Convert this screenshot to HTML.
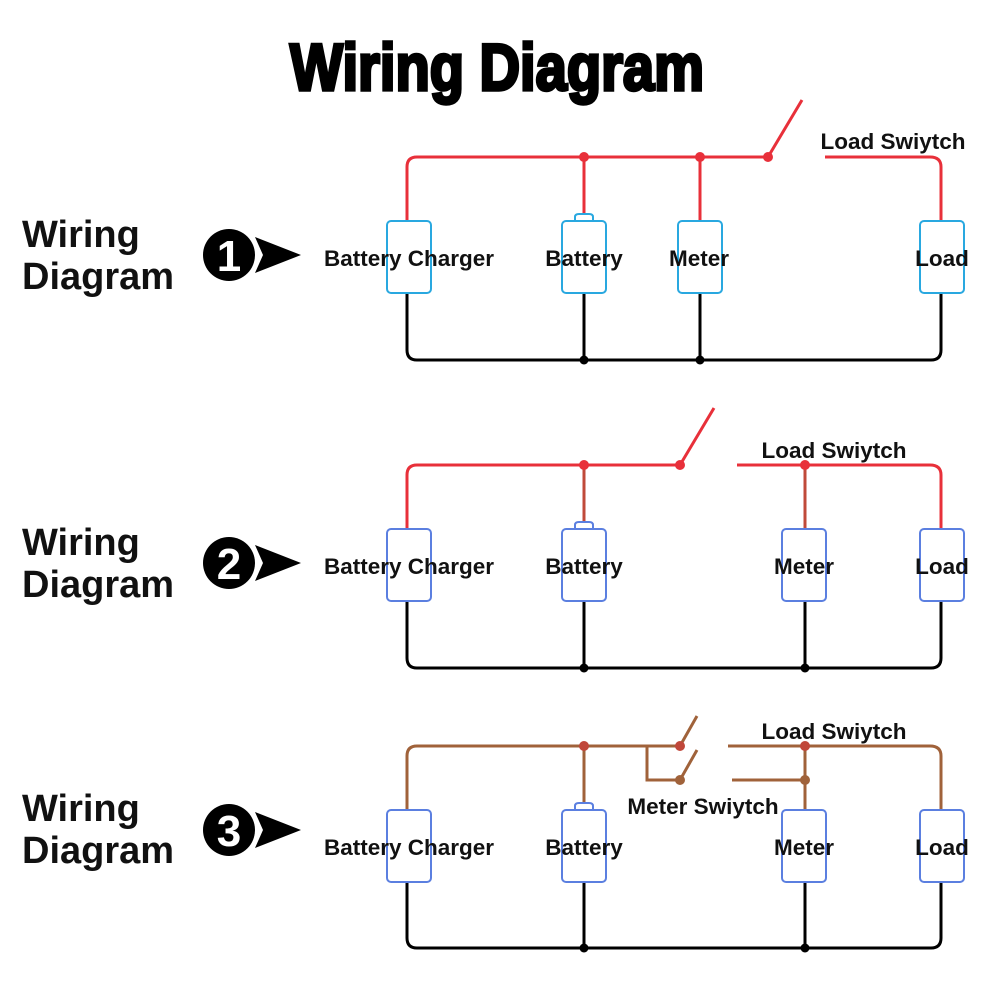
<!DOCTYPE html>
<html><head><meta charset="utf-8"><style>
html,body{margin:0;padding:0;background:#fff;}
svg{display:block;}
text{font-family:"Liberation Sans",Arial,sans-serif;font-weight:bold;}
</style></head><body>
<svg width="1000" height="1000" viewBox="0 0 1000 1000" xmlns="http://www.w3.org/2000/svg">
<rect width="1000" height="1000" fill="#fff"/>
<text x="497" y="90" font-size="66" text-anchor="middle" textLength="414" lengthAdjust="spacingAndGlyphs" stroke="#000" stroke-width="3.5" fill="#000">Wiring Diagram</text>

<g font-size="38" fill="#111">
<text x="22" y="247">Wiring</text><text x="22" y="289">Diagram</text>
<text x="22" y="555">Wiring</text><text x="22" y="597">Diagram</text>
<text x="22" y="821">Wiring</text><text x="22" y="863">Diagram</text>
</g>
<g>
<circle cx="229" cy="255" r="26" fill="#000"/><text x="229" y="271" font-size="44" fill="#fff" text-anchor="middle">1</text>
<path d="M255,237 L301,255 L255,273 L263,255 Z" fill="#000"/>
<circle cx="229" cy="563" r="26" fill="#000"/><text x="229" y="579" font-size="44" fill="#fff" text-anchor="middle">2</text>
<path d="M255,545 L301,563 L255,581 L263,563 Z" fill="#000"/>
<circle cx="229" cy="830" r="26" fill="#000"/><text x="229" y="846" font-size="44" fill="#fff" text-anchor="middle">3</text>
<path d="M255,812 L301,830 L255,848 L263,830 Z" fill="#000"/>
</g>

<!-- Diagram 1 -->
<g fill="none" stroke-width="3">
<path d="M407,221 V167 Q407,157 417,157 H768 L802,100" stroke="#e8303a"/>
<path d="M825,157 H930 Q941,157 941,167 V221" stroke="#e8303a"/>
<path d="M584,157 V214 M700,157 V221" stroke="#e8303a"/>
<path d="M407,293 V350 Q407,360 417,360 H931 Q941,360 941,350 V293 M584,293 V360 M700,293 V360" stroke="#000"/>
<g stroke="#29a8e0" stroke-width="2" fill="#fff">
<rect x="387" y="221" width="44" height="72" rx="4"/>
<path d="M575,221 V217 Q575,214 579,214 H589 Q593,214 593,217 V221"/>
<rect x="562" y="221" width="44" height="72" rx="4"/>
<rect x="678" y="221" width="44" height="72" rx="4"/>
<rect x="920" y="221" width="44" height="72" rx="4"/>
</g>
</g>
<g fill="#e8303a"><circle cx="584" cy="157" r="5"/><circle cx="700" cy="157" r="5"/><circle cx="768" cy="157" r="5"/></g>
<g fill="#000"><circle cx="584" cy="360" r="4.5"/><circle cx="700" cy="360" r="4.5"/></g>
<g font-size="22.5" fill="#111" text-anchor="middle">
<text x="409" y="266">Battery Charger</text><text x="584" y="266">Battery</text><text x="699" y="266">Meter</text><text x="942" y="266">Load</text>
<text x="893" y="149">Load Swiytch</text>
</g>

<!-- Diagram 2 -->
<g fill="none" stroke-width="3">
<path d="M407,529 V475 Q407,465 417,465 H680 L714,408" stroke="#e8303a"/>
<path d="M737,465 H930 Q941,465 941,475 V529" stroke="#e8303a"/>
<path d="M584,465 V522 M805,465 V529" stroke="#c04a3a"/>
<path d="M407,601 V658 Q407,668 417,668 H931 Q941,668 941,658 V601 M584,601 V668 M805,601 V668" stroke="#000"/>
<g stroke="#5b7fe0" stroke-width="2" fill="#fff">
<rect x="387" y="529" width="44" height="72" rx="4"/>
<path d="M575,529 V525 Q575,522 579,522 H589 Q593,522 593,525 V529"/>
<rect x="562" y="529" width="44" height="72" rx="4"/>
<rect x="782" y="529" width="44" height="72" rx="4"/>
<rect x="920" y="529" width="44" height="72" rx="4"/>
</g>
</g>
<g fill="#e8303a"><circle cx="584" cy="465" r="5"/><circle cx="805" cy="465" r="5"/><circle cx="680" cy="465" r="5"/></g>
<g fill="#000"><circle cx="584" cy="668" r="4.5"/><circle cx="805" cy="668" r="4.5"/></g>
<g font-size="22.5" fill="#111" text-anchor="middle">
<text x="409" y="574">Battery Charger</text><text x="584" y="574">Battery</text><text x="804" y="574">Meter</text><text x="942" y="574">Load</text>
<text x="834" y="458">Load Swiytch</text>
</g>

<!-- Diagram 3 -->
<g fill="none" stroke-width="3" stroke="#a0623a">
<path d="M407,810 V756 Q407,746 417,746 H680 L697,716"/>
<path d="M647,746 V780 H680 L697,750"/>
<path d="M728,746 H930 Q941,746 941,756 V810"/>
<path d="M732,780 H805"/>
<path d="M584,746 V803 M805,746 V810"/>
<path d="M407,882 V938 Q407,948 417,948 H931 Q941,948 941,938 V882 M584,882 V948 M805,882 V948" stroke="#000"/>
<g stroke="#5b7fe0" stroke-width="2" fill="#fff">
<rect x="387" y="810" width="44" height="72" rx="4"/>
<path d="M575,810 V806 Q575,803 579,803 H589 Q593,803 593,806 V810"/>
<rect x="562" y="810" width="44" height="72" rx="4"/>
<rect x="782" y="810" width="44" height="72" rx="4"/>
<rect x="920" y="810" width="44" height="72" rx="4"/>
</g>
</g>
<g fill="#c0473a"><circle cx="584" cy="746" r="5"/><circle cx="805" cy="746" r="5"/><circle cx="680" cy="746" r="5"/></g>
<g fill="#a0623a"><circle cx="680" cy="780" r="5"/><circle cx="805" cy="780" r="5"/></g>
<g fill="#000"><circle cx="584" cy="948" r="4.5"/><circle cx="805" cy="948" r="4.5"/></g>
<g font-size="22.5" fill="#111" text-anchor="middle">
<text x="409" y="855">Battery Charger</text><text x="584" y="855">Battery</text><text x="804" y="855">Meter</text><text x="942" y="855">Load</text>
<text x="834" y="739">Load Swiytch</text>
<text x="703" y="814">Meter Swiytch</text>
</g>
</svg>
</body></html>
